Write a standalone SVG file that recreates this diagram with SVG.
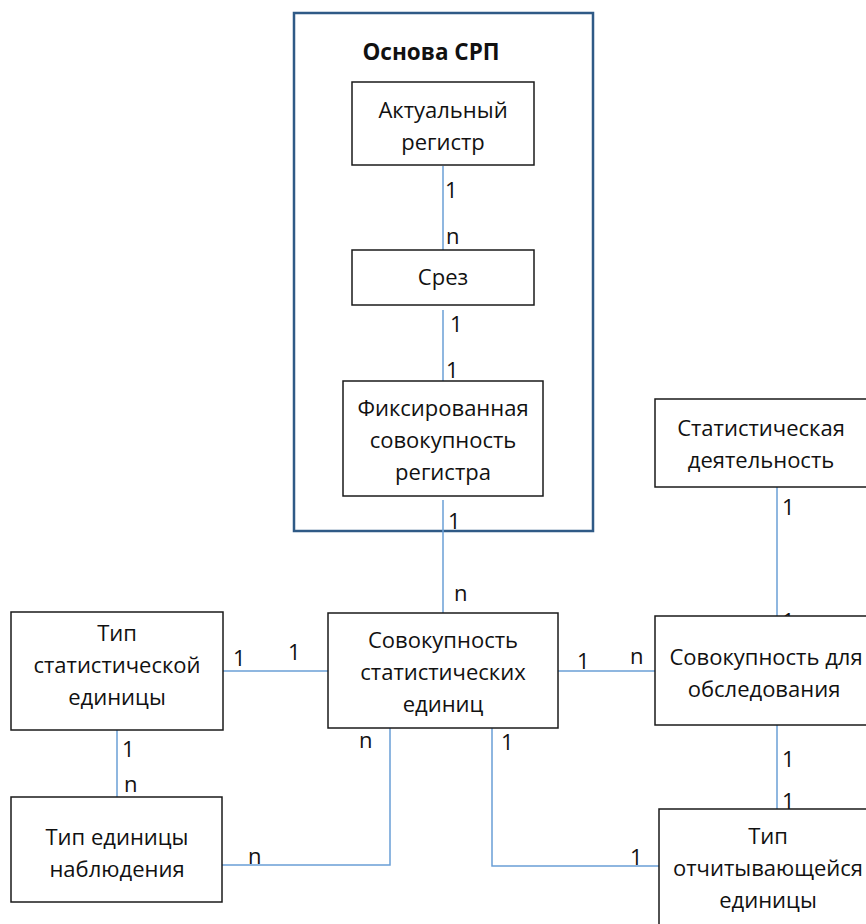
<svg xmlns="http://www.w3.org/2000/svg" width="866" height="924" viewBox="0 0 866 924">
<style>
text{font-family:"Open Sans","Noto Sans","DejaVu Sans",sans-serif;font-size:22px;fill:#111}
.t{text-anchor:middle}
.b{fill:#fff;stroke:#1a1a1a;stroke-width:1.5}
.c{fill:none;stroke:#6a9fd6;stroke-width:1.5}
.lbl{font-size:21px}
</style>
<rect width="866" height="924" fill="#fff"/>
<g id="frame">
<rect x="294" y="13" width="299" height="518" fill="none" stroke="#2f5a86" stroke-width="2.5"/>
<text x="431" y="60" class="t" style="font-weight:bold;font-size:22.5px">Основа СРП</text>
</g>
<g id="connectors">
<path class="c" d="M443 166V250"/>
<path class="c" d="M443 310V381"/>
<path class="c" d="M443 500V613"/>
<path class="c" d="M223 671H328"/>
<path class="c" d="M558 671H655"/>
<path class="c" d="M117 730V797"/>
<path class="c" d="M222 865H390V728"/>
<path class="c" d="M492 728V866H659"/>
<path class="c" d="M777 487V616"/>
<path class="c" d="M777 725V809"/>
</g>
<g id="labels" class="lbl">
<text x="445" y="198">1</text>
<text x="446" y="244">n</text>
<text x="450" y="332">1</text>
<text x="446" y="378">1</text>
<text x="448" y="529">1</text>
<text x="454" y="601">n</text>
<text x="233" y="666">1</text>
<text x="288" y="660">1</text>
<text x="577" y="669">1</text>
<text x="630" y="664">n</text>
<text x="782" y="515">1</text>
<text x="782" y="629">1</text>
<text x="782" y="767">1</text>
<text x="782" y="809">1</text>
<text x="122" y="757">1</text>
<text x="124" y="792">n</text>
<text x="359" y="748">n</text>
<text x="501" y="750">1</text>
<text x="248" y="864">n</text>
<text x="630" y="865">1</text>
</g>
<g id="n-actual">
<rect class="b" x="352" y="82" width="182" height="83"/>
<text class="t" x="443" y="118">Актуальный</text>
<text class="t" x="443" y="150">регистр</text>
</g>
<g id="n-srez">
<rect class="b" x="352" y="250" width="182" height="55"/>
<text class="t" x="443" y="285">Срез</text>
</g>
<g id="n-fixed">
<rect class="b" x="343" y="381" width="200" height="115"/>
<text class="t" x="443" y="416">Фиксированная</text>
<text class="t" x="443" y="448">совокупность</text>
<text class="t" x="443" y="480">регистра</text>
</g>
<g id="n-sovok">
<rect class="b" x="328" y="613" width="230" height="115"/>
<text class="t" x="443" y="648">Совокупность</text>
<text class="t" x="443" y="680">статистических</text>
<text class="t" x="443" y="712">единиц</text>
</g>
<g id="n-tip-stat">
<rect class="b" x="11" y="612" width="212" height="118"/>
<text class="t" x="117" y="641">Тип</text>
<text class="t" x="117" y="673">статистической</text>
<text class="t" x="117" y="705">единицы</text>
</g>
<g id="n-tip-nabl">
<rect class="b" x="11" y="797" width="211" height="105"/>
<text class="t" x="117" y="845">Тип единицы</text>
<text class="t" x="117" y="877">наблюдения</text>
</g>
<g id="n-stat-deyat">
<rect class="b" x="655" y="399" width="230" height="88"/>
<text class="t" x="761" y="436">Статистическая</text>
<text class="t" x="761" y="468">деятельность</text>
</g>
<g id="n-sovok-obsl">
<rect class="b" x="655" y="616" width="230" height="109"/>
<text class="t" x="766" y="665">Совокупность для</text>
<text class="t" x="764" y="697">обследования</text>
</g>
<g id="n-tip-otch">
<rect class="b" x="659" y="809" width="230" height="130"/>
<text class="t" x="768" y="844">Тип</text>
<text class="t" x="768" y="876">отчитывающейся</text>
<text class="t" x="768" y="908">единицы</text>
</g>
</svg>
